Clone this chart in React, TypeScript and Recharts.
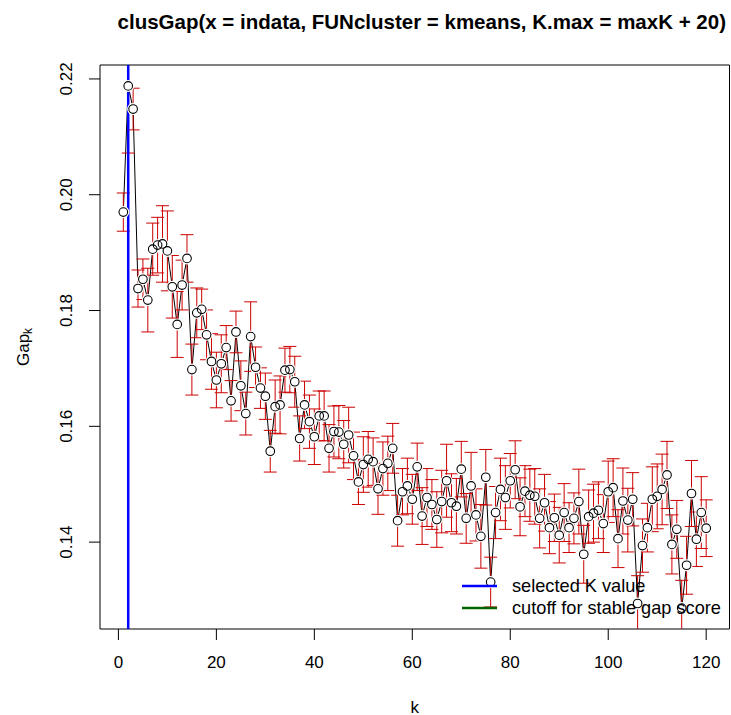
import React from 'react';
import { LineChart, Line, XAxis, YAxis, ErrorBar, ReferenceLine, ReferenceArea, Legend } from 'recharts';

const gapValues = [
  0.1970, 0.2188, 0.2148, 0.1838, 0.1854, 0.1818, 0.1906, 0.1913, 0.1915, 0.1903,
  0.1841, 0.1776, 0.1844, 0.1890, 0.1698, 0.1796, 0.1802, 0.1758, 0.1712, 0.1680,
  0.1708, 0.1736, 0.1644, 0.1763, 0.1670, 0.1622, 0.1755, 0.1702, 0.1666, 0.1652,
  0.1557, 0.1634, 0.1637, 0.1697, 0.1698, 0.1677, 0.1579, 0.1637, 0.1608, 0.1582,
  0.1618, 0.1618, 0.1562, 0.1591, 0.1590, 0.1569, 0.1585, 0.1549, 0.1504, 0.1534,
  0.1543, 0.1539, 0.1492, 0.1527, 0.1536, 0.1562, 0.1437, 0.1487, 0.1497, 0.1474,
  0.1530, 0.1445, 0.1477, 0.1465, 0.1439, 0.1470, 0.1506, 0.1468, 0.1462, 0.1526,
  0.1441, 0.1497, 0.1447, 0.1410, 0.1512, 0.1331, 0.1451, 0.1491, 0.1477, 0.1506,
  0.1525, 0.1461, 0.1488, 0.1481, 0.1479, 0.1441, 0.1468, 0.1425, 0.1442, 0.1412,
  0.1451, 0.1425, 0.1441, 0.1470, 0.1379, 0.1444, 0.1450, 0.1455, 0.1432, 0.1487,
  0.1494, 0.1406, 0.1471, 0.1438, 0.1474, 0.1294, 0.1394, 0.1425, 0.1474, 0.1479,
  0.1491, 0.1516, 0.1396, 0.1422, 0.1286, 0.1360, 0.1484, 0.1405, 0.1451, 0.1424,
];

const seValues = [
  0.0033, 0.0116, 0.0036, 0.0032, 0.0035, 0.0055, 0.0045, 0.0048, 0.0066, 0.0069,
  0.0054, 0.0057, 0.0043, 0.0041, 0.0044, 0.0043, 0.0035, 0.0043, 0.0048, 0.0048,
  0.0050, 0.0038, 0.0035, 0.0036, 0.0043, 0.0037, 0.0060, 0.0035, 0.0035, 0.0040,
  0.0036, 0.0046, 0.0050, 0.0038, 0.0040, 0.0044, 0.0039, 0.0041, 0.0046, 0.0048,
  0.0043, 0.0043, 0.0041, 0.0044, 0.0046, 0.0041, 0.0048, 0.0041, 0.0039, 0.0048,
  0.0048, 0.0041, 0.0044, 0.0046, 0.0047, 0.0043, 0.0044, 0.0040, 0.0048, 0.0043,
  0.0041, 0.0049, 0.0050, 0.0043, 0.0048, 0.0054, 0.0063, 0.0050, 0.0048, 0.0048,
  0.0043, 0.0058, 0.0045, 0.0055, 0.0048, 0.0043, 0.0045, 0.0054, 0.0055, 0.0047,
  0.0050, 0.0050, 0.0044, 0.0045, 0.0048, 0.0051, 0.0049, 0.0045, 0.0041, 0.0048,
  0.0050, 0.0043, 0.0044, 0.0056, 0.0050, 0.0046, 0.0050, 0.0049, 0.0050, 0.0053,
  0.0050, 0.0050, 0.0057, 0.0055, 0.0046, 0.0048, 0.0046, 0.0042, 0.0056, 0.0056,
  0.0061, 0.0058, 0.0051, 0.0050, 0.0048, 0.0050, 0.0057, 0.0047, 0.0062, 0.0049,
];

const xTicks = [0, 20, 40, 60, 80, 100, 120];
const yTicks = [0.14, 0.16, 0.18, 0.2, 0.22];
const yTickLabels = ['0.14', '0.16', '0.18', '0.20', '0.22'];
const selectedK = 2;
const titleText = 'clusGap(x = indata, FUNcluster = kmeans, K.max = maxK + 20)';
const xLabel = 'k';
const legendLabels = ['selected K value', 'cutoff for stable gap score'];
const legendColors = ['#0000FF', '#006400'];

const data = gapValues.map((g, i) => ({ k: i + 1, gap: g, se: seValues[i] }));

const kFirst = data[0].k;
const kLast = data[data.length - 1].k;
const xPad = (kLast - kFirst) * 0.04;
const xDomain = [kFirst - xPad, kLast + xPad];
const gMin = Math.min(...gapValues);
const gMax = Math.max(...gapValues);
const yPad = (gMax - gMin) * 0.04;
const yDomain = [gMin - yPad, gMax + yPad];

const FONT = '"Liberation Sans", Arial, Helvetica, sans-serif';
const TICK_FS = 17;
const LEG_FS = 18.2;

const XTick = (props: any) => {
  const { x, y, payload } = props;
  return (
    <text x={x} y={y} dy={21} textAnchor="middle" dominantBaseline="central" fontSize={TICK_FS} fontFamily={FONT} fill="#000">
      {payload.value}
    </text>
  );
};

const YTick = (props: any) => {
  const { x, y, payload } = props;
  const idx = yTicks.findIndex((t) => Math.abs(t - payload.value) < 1e-9);
  const label = idx >= 0 ? yTickLabels[idx] : String(payload.value);
  const cx = x - 21;
  return (
    <text x={cx} y={y} transform={`rotate(-90, ${cx}, ${y})`} textAnchor="middle" dominantBaseline="central" fontSize={TICK_FS} fontFamily={FONT} fill="#000">
      {label}
    </text>
  );
};

const YLabel = (props: any) => {
  const { viewBox } = props;
  const cx = 23;
  const cy = viewBox.y + viewBox.height / 2;
  return (
    <text x={cx} y={cy} transform={`rotate(-90, ${cx}, ${cy})`} textAnchor="middle" dominantBaseline="central" fontSize={TICK_FS} fontFamily={FONT} fill="#000">
      Gap
      <tspan fontSize={TICK_FS * 0.7} dy={5}>k</tspan>
    </text>
  );
};

const XLabel = (props: any) => {
  const { viewBox } = props;
  const cx = viewBox.x + viewBox.width / 2;
  const cy = viewBox.y + 78;
  return (
    <text x={cx} y={cy} textAnchor="middle" dominantBaseline="central" fontSize={TICK_FS} fontFamily={FONT} fill="#000">
      {xLabel}
    </text>
  );
};

const LegendBox = () => (
  <svg width={276} height={50} style={{ display: 'block', overflow: 'visible' }}>
    {legendLabels.map((lab, i) => (
      <g key={lab}>
        <line x1={7} x2={42} y1={16 + i * 22} y2={16 + i * 22} stroke={legendColors[i]} strokeWidth={2.5} />
        <text x={57} y={16 + i * 22} dominantBaseline="central" fontSize={LEG_FS} fontFamily={FONT} fill="#000">
          {lab}
        </text>
      </g>
    ))}
  </svg>
);

export default function App() {
  return (
    <div style={{ position: 'absolute', left: 0, top: 0, width: 731, height: 715, background: '#fff' }}>
      <div
        style={{
          position: 'absolute',
          left: 107,
          width: 629.5,
          top: 10,
          textAlign: 'center',
          fontFamily: FONT,
          fontWeight: 'bold',
          fontSize: 20.5,
          lineHeight: '24px',
          color: '#000',
          whiteSpace: 'nowrap',
        }}
      >
        {titleText}
      </div>
      <LineChart width={731} height={715} data={data} margin={{ top: 65, right: 1.5, bottom: 26, left: 40 }}>
        <XAxis
          dataKey="k"
          type="number"
          domain={xDomain}
          ticks={xTicks}
          allowDataOverflow
          interval={0}
          height={60}
          axisLine={false}
          tickSize={11}
          tickMargin={1}
          tickLine={{ stroke: '#000' }}
          tick={<XTick />}
          label={<XLabel />}
        />
        <YAxis
          type="number"
          domain={yDomain}
          ticks={yTicks}
          allowDataOverflow
          interval={0}
          width={60}
          axisLine={false}
          tickSize={11}
          tickMargin={1}
          tickLine={{ stroke: '#000' }}
          tick={<YTick />}
          label={<YLabel />}
        />
        <ReferenceArea x1={xDomain[0]} x2={xDomain[1]} y1={yDomain[0]} y2={yDomain[1]} fill="none" fillOpacity={0} stroke="#000" strokeWidth={1} />
        <Line
          dataKey="gap"
          stroke="#000"
          strokeWidth={1}
          dot={{ r: 6, fill: '#fff', stroke: 'none', strokeWidth: 0 }}
          activeDot={false}
          isAnimationActive={false}
        />
        <Line
          dataKey="gap"
          stroke="none"
          dot={{ r: 4.3, fill: 'none', stroke: '#000', strokeWidth: 1.1 }}
          activeDot={false}
          isAnimationActive={false}
        />
        <Line id="gaperr" dataKey="gap" stroke="none" dot={false} activeDot={false} isAnimationActive={false}>
          <ErrorBar
            dataKey="se"
            direction="y"
            width={6.5}
            stroke="#CD0000"
            strokeWidth={1}
            clipPath="url(#clipPath-gaperr)"
            isAnimationActive={false}
          />
        </Line>
        <ReferenceLine x={selectedK} stroke="#0000FF" strokeWidth={2.5} />
        <Legend
          layout="horizontal"
          verticalAlign="middle"
          align="center"
          wrapperStyle={{ left: 455, top: 570, width: 276, height: 50 }}
          content={<LegendBox />}
        />
      </LineChart>
    </div>
  );
}
